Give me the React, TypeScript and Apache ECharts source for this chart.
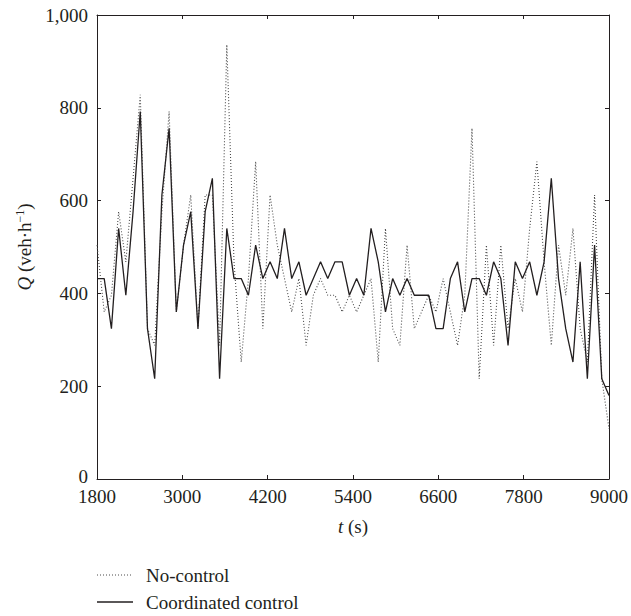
import React, { useEffect, useRef } from "react";
import * as echarts from "echarts";

const startTime = 1800;
const endTime = 9000;
const xTickStep = 1200;
const yTicks = [0, 200, 400, 600, 800, 1000];

const seriesNames = ["No-control", "Coordinated control"];

// Q (veh/h) sampled evenly between 1800 s and 9000 s
const noControl = [
  504, 360, 396, 576, 468, 648, 828, 324, 288, 576,
  792, 360, 504, 612, 324, 612, 612, 288, 936, 468,
  252, 432, 684, 324, 612, 504, 432, 360, 432, 288,
  396, 432, 396, 396, 360, 396, 360, 396, 432, 252,
  540, 324, 288, 504, 324, 360, 396, 360, 432, 360,
  288, 396, 756, 216, 504, 288, 504, 324, 432, 360,
  540, 684, 468, 288, 504, 396, 540, 324, 252, 612,
  216, 108,
];

const coordinated = [
  432, 432, 324, 540, 396, 576, 792, 324, 216, 612,
  756, 360, 504, 576, 324, 576, 648, 216, 540, 432,
  432, 396, 504, 432, 468, 432, 540, 432, 468, 396,
  432, 468, 432, 468, 468, 396, 432, 396, 540, 468,
  360, 432, 396, 432, 396, 396, 396, 324, 324, 432,
  468, 360, 432, 432, 396, 468, 432, 288, 468, 432,
  468, 396, 468, 648, 432, 324, 252, 468, 216, 504,
  216, 180,
];

const FONT = "'Liberation Serif', 'DejaVu Serif', serif";
const INK = "#231f20";
const DOT = "#4a4a4a";
const FS = 19;

function toPairs(values: number[]) {
  const n = values.length;
  return values.map((v, i) => [((endTime - startTime) * i) / (n - 1), v]);
}

export default function App() {
  const ref = useRef<HTMLDivElement>(null);

  useEffect(() => {
    if (!ref.current) return;
    const chart = echarts.init(ref.current, undefined, { renderer: "svg" });
    const span = endTime - startTime;
    const baseX = {
      type: "value" as const,
      min: 0,
      max: span,
      interval: xTickStep,
      splitLine: { show: false },
      axisLine: { show: true, onZero: false, lineStyle: { color: INK, width: 1 } },
      axisTick: { show: true, inside: true, length: 4, lineStyle: { color: INK } },
    };
    const baseY = {
      type: "value" as const,
      min: yTicks[0],
      max: yTicks[yTicks.length - 1],
      interval: 200,
      splitLine: { show: false },
      axisLine: { show: true, onZero: false, lineStyle: { color: INK, width: 1 } },
      axisTick: { show: true, inside: true, length: 4, lineStyle: { color: INK } },
    };
    const legendRows = [
      { name: seriesNames[0], y: 575, dash: [1, 2], color: DOT },
      { name: seriesNames[1], y: 602, dash: null, color: INK },
    ];
    const graphic: any[] = [];
    legendRows.forEach((r) => {
      graphic.push({
        type: "line",
        shape: { x1: 97, y1: r.y, x2: 133, y2: r.y },
        style: { stroke: r.color, lineWidth: r.dash ? 1 : 1.3, lineDash: r.dash || undefined },
      });
      graphic.push({
        type: "text",
        x: 146,
        y: r.y,
        style: {
          text: r.name,
          font: `${FS}px ${FONT}`,
          fill: INK,
          textVerticalAlign: "middle",
          verticalAlign: "middle",
        },
      });
    });

    chart.setOption({
      animation: false,
      backgroundColor: "#ffffff",
      grid: { left: 97, right: 20, top: 15, bottom: 137, containLabel: false },
      textStyle: { fontFamily: FONT },
      graphic,
      xAxis: [
        {
          ...baseX,
          position: "bottom",
          name: "{i|t} (s)",
          nameLocation: "middle",
          nameGap: 38,
          nameTextStyle: {
            fontFamily: FONT,
            fontSize: FS,
            color: INK,
            rich: { i: { fontStyle: "italic", fontFamily: FONT, fontSize: FS, color: INK } },
          },
          axisLabel: {
            margin: 10,
            fontFamily: FONT,
            fontSize: FS,
            lineHeight: 14,
            color: INK,
            formatter: (v: number) => String(v + startTime),
          },
        },
        {
          ...baseX,
          position: "top",
          axisLabel: { show: false },
        },
      ],
      yAxis: [
        {
          ...baseY,
          position: "left",
          name: "{i|Q} (veh·h{s|−1})",
          nameLocation: "middle",
          nameGap: 62,
          nameRotate: 90,
          nameTextStyle: {
            fontFamily: FONT,
            fontSize: FS,
            color: INK,
            rich: {
              i: { fontStyle: "italic", fontFamily: FONT, fontSize: FS, color: INK },
              s: { fontFamily: FONT, fontSize: 12, color: INK, verticalAlign: "top", padding: [0, 0, 9, 0] },
            },
          },
          axisLabel: {
            margin: 9,
            fontFamily: FONT,
            fontSize: FS,
            lineHeight: 14,
            color: INK,
            formatter: (v: number) => (v === 0 ? "{z|0}" : v.toLocaleString("en-US")),
            rich: {
              z: { fontFamily: FONT, fontSize: FS, lineHeight: 14, color: INK, padding: [0, 0, 6, 0] },
            },
          },
        },
        {
          ...baseY,
          position: "right",
          axisLabel: { show: false },
        },
      ],
      series: [
        {
          name: seriesNames[0],
          type: "line",
          data: toPairs(noControl),
          symbol: "none",
          lineStyle: { color: DOT, width: 1.1, type: [1, 2] },
          itemStyle: { color: DOT },
          z: 2,
        },
        {
          name: seriesNames[1],
          type: "line",
          data: toPairs(coordinated),
          symbol: "none",
          lineStyle: { color: INK, width: 1.3, type: "solid" },
          itemStyle: { color: INK },
          z: 3,
        },
      ],
    });
    return () => chart.dispose();
  }, []);

  return (
    <div
      ref={ref}
      style={{ position: "absolute", left: 0, top: 0, width: 631, height: 616, background: "#fff" }}
    />
  );
}
